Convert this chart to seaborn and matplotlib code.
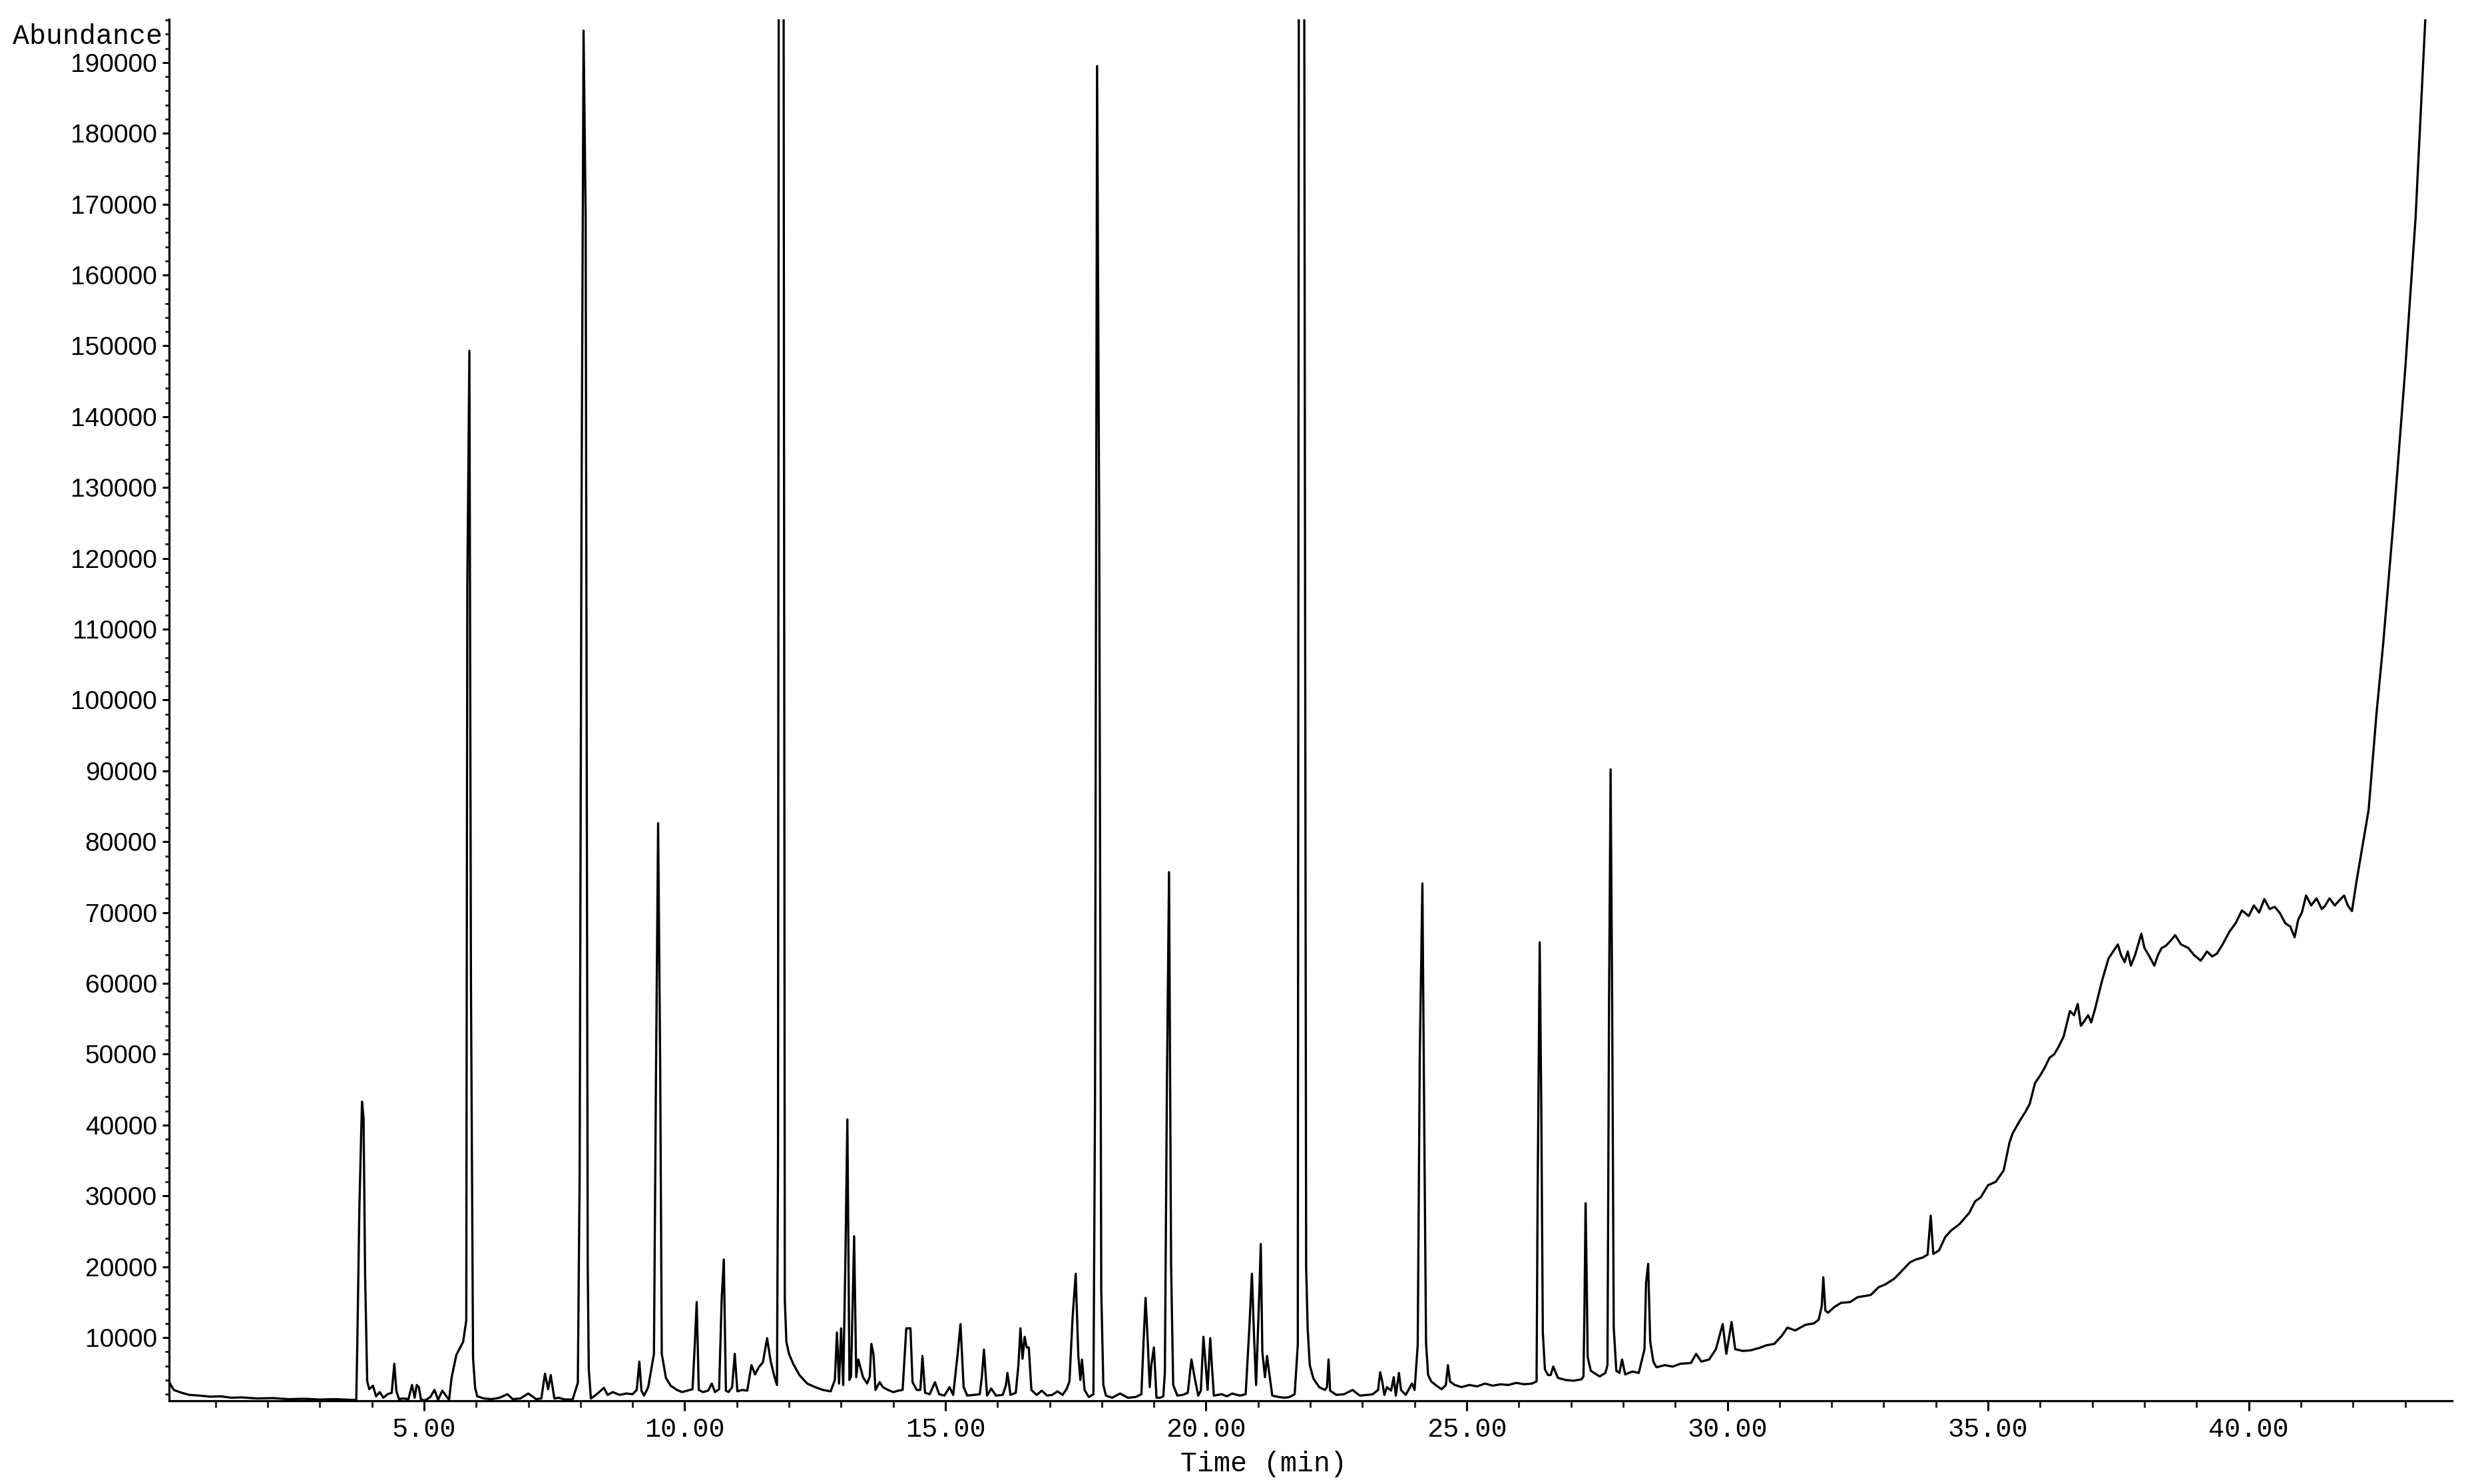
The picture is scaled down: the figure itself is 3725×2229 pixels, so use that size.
import numpy as np
import pandas as pd
import matplotlib
matplotlib.use('Agg')
import matplotlib.pyplot as plt
import seaborn as sns
from matplotlib import font_manager
from matplotlib.ticker import MultipleLocator, FormatStrFormatter

# chromatogram trace (time in min, abundance)
t_front = [0.12, 0.2, 0.35, 0.5, 0.7, 0.9, 1.1, 1.3, 1.5, 1.8, 2.1, 2.4, 2.7, 3.0, 3.3, 3.6,
           3.70, 3.72, 3.76, 3.81, 3.84, 3.87, 3.91, 3.95, 4.02, 4.08, 4.15, 4.22, 4.30, 4.38,
           4.43, 4.47, 4.52, 4.60, 4.70, 4.77, 4.82, 4.86, 4.90, 4.94, 5.00, 5.06, 5.12, 5.20,
           5.27, 5.35, 5.42, 5.48, 5.53, 5.62, 5.75, 5.81, 5.83, 5.87, 5.90, 5.94, 5.98, 6.02,
           6.15, 6.3, 6.45, 6.6, 6.7, 6.85]
a_front = [3600, 2600, 2200, 1900, 1800, 1650, 1700, 1500, 1550, 1400, 1450, 1300, 1350, 1250, 1300, 1200,
           1200, 9100, 28500, 43300, 41000, 18600, 3800, 2700, 3200, 1700, 2300, 1500, 2000, 2200,
           6300, 2400, 1300, 1400, 1300, 3300, 1500, 3300, 3000, 1300, 1100, 1300, 1600, 2600,
           1200, 2500, 1800, 1200, 4400, 7550, 9400, 12400, 116000, 149300, 60000, 7100, 2900, 1700,
           1400, 1300, 1500, 2000, 1300, 1400]

t_early = [7.0, 7.15, 7.25, 7.32, 7.38, 7.43, 7.50, 7.58, 7.7, 7.85, 7.95, 7.985, 8.02, 8.06, 8.10,
           8.14, 8.16, 8.20, 8.28, 8.36, 8.45, 8.52, 8.62, 8.75, 8.88, 9.0, 9.08, 9.13, 9.17, 9.22,
           9.30, 9.41, 9.45, 9.49, 9.53, 9.56, 9.64, 9.73, 9.85, 9.95, 10.05, 10.15, 10.19, 10.23,
           10.27, 10.35, 10.45, 10.52, 10.58, 10.66, 10.71, 10.75, 10.79, 10.84, 10.91, 10.96, 11.01,
           11.10, 11.20, 11.28, 11.35, 11.42, 11.50, 11.58, 11.65, 11.72, 11.77, 11.79, 11.81, 11.85,
           11.89, 11.92, 11.95, 12.0, 12.08, 12.2, 12.35, 12.5, 12.65, 12.8]
a_early = [2100, 1300, 1400, 4900, 2700, 4700, 1400, 1500, 1250, 1250, 3600, 33400, 125000, 194500, 168000,
           20000, 5500, 1400, 1800, 2300, 2900, 1900, 2300, 1900, 2100, 2000, 2600, 6600, 2500, 1800,
           3000, 7700, 48000, 82600, 48000, 7700, 4300, 3200, 2600, 2300, 2500, 2700, 8500, 15000,
           2600, 2300, 2500, 3500, 2300, 2700, 15600, 21000, 2500, 2300, 3000, 7700, 2400,
           2600, 2500, 6100, 4800, 5800, 6500, 9900, 6600, 4500, 3300, 35400, 280000, 350000,
           260000, 15400, 9400, 7700, 6300, 4700, 3500, 3000, 2600, 2400]

t_mid = [12.88, 12.92, 12.96, 13.0, 13.04, 13.08, 13.12, 13.16, 13.19, 13.25, 13.29, 13.33, 13.42, 13.50,
         13.55, 13.58, 13.62, 13.66, 13.74, 13.80, 13.9, 14.0, 14.1, 14.18, 14.25, 14.33, 14.37, 14.45,
         14.52, 14.56, 14.61, 14.70, 14.80, 14.88, 14.98, 15.08, 15.15, 15.24, 15.29, 15.35, 15.42,
         15.55, 15.66, 15.70, 15.74, 15.80, 15.88, 15.97, 16.1, 16.16, 16.19, 16.25, 16.35, 16.40,
         16.44, 16.48, 16.52, 16.56, 16.60, 16.65, 16.75, 16.85, 16.95, 17.05, 17.15, 17.25, 17.33,
         17.38, 17.44, 17.50, 17.55, 17.59, 17.62, 17.67, 17.75, 17.84, 17.87, 17.91, 17.95, 17.99,
         18.03, 18.08, 18.2, 18.35, 18.5, 18.65, 18.76, 18.80, 18.84, 18.88, 18.92, 18.95, 19.0,
         19.05, 19.12, 19.18]
a_mid = [4000, 10700, 3500, 11300, 3300, 20000, 40800, 4000, 4500, 24300, 4400, 6900, 4400, 3500,
         4500, 9100, 7700, 2600, 3700, 3000, 2600, 2300, 2500, 2600, 11300, 11300, 3700, 2600,
         2600, 7400, 2200, 2000, 3700, 2000, 1800, 3000, 1900, 8000, 11900, 3000, 1800,
         1900, 2000, 4500, 8300, 1800, 2800, 1800, 1900, 3200, 5000, 1900, 2200, 6000,
         11300, 7000, 10100, 8600, 8600, 2600, 1900, 2500, 1800, 1900, 2400, 1900, 2800,
         3800, 12800, 19000, 7400, 4000, 6900, 2600, 1600, 2000, 43000, 189500, 126000, 16600,
         3300, 1800, 1500, 2100, 1500, 1600, 2000, 9200, 15600, 9700, 3000, 6100, 8600,
         1500, 1500, 1700]

t_late = [19.21, 19.25, 19.29, 19.33, 19.37, 19.45, 19.55, 19.65, 19.72, 19.78, 19.85, 19.90, 19.95,
          19.99, 20.03, 20.08, 20.11, 20.15, 20.3, 20.4, 20.5, 20.65, 20.76, 20.83, 20.88, 20.92, 20.96,
          21.02, 21.05, 21.08, 21.13, 21.17, 21.21, 21.27, 21.4, 21.5, 21.6, 21.70, 21.74, 21.76, 21.79,
          21.85, 21.90, 21.92, 21.95, 21.99, 22.06, 22.17, 22.28, 22.32, 22.35, 22.38, 22.5, 22.65,
          22.81, 22.95, 23.1, 23.2, 23.30, 23.34, 23.38, 23.42, 23.47, 23.55, 23.60, 23.64, 23.70,
          23.74, 23.83, 23.95, 24.0, 24.06, 24.10, 24.15, 24.19, 24.22, 24.26, 24.32, 24.42, 24.52,
          24.60, 24.64, 24.68, 24.77, 24.9, 25.05, 25.2, 25.35, 25.5, 25.65, 25.8, 25.95, 26.1, 26.25,
          26.34, 26.36, 26.40, 26.43, 26.46, 26.50, 26.56, 26.61, 26.66]
a_late = [5000, 46000, 75700, 20000, 3300, 1800, 1900, 2200, 6900, 4400, 1800, 2500, 10100,
          6400, 2600, 9900, 6300, 1800, 2000, 1700, 2100, 1800, 2000, 11300, 19000, 10300, 3300,
          16000, 23200, 8000, 4400, 7400, 5100, 1800, 1600, 1500, 1600, 2000, 6600, 9000, 300000,
          380000, 114000, 20000, 11100, 6100, 4200, 3000, 2600, 3000, 6900, 2500, 1900, 2000,
          2600, 1800, 1900, 2000, 2600, 5100, 3800, 1900, 3000, 2500, 4400, 1800, 5000,
          2600, 1900, 3500, 2600, 8900, 50000, 74100, 36000, 9200, 4700, 3800, 3200, 2700,
          3300, 6100, 3800, 3300, 3000, 3300, 3100, 3500, 3200, 3400, 3300, 3600, 3400, 3500,
          3800, 29800, 65800, 43000, 10700, 5500, 4700, 4700, 5900]

t_rise = [26.75, 26.9, 27.05, 27.2, 27.24, 27.26, 27.28, 27.30, 27.32, 27.38, 27.55, 27.66, 27.70, 27.73,
          27.76, 27.79, 27.82, 27.87, 27.93, 27.98, 28.04, 28.18, 28.30, 28.41, 28.44, 28.48, 28.52,
          28.58, 28.64, 28.8, 28.95, 29.1, 29.3, 29.4, 29.5, 29.65, 29.78, 29.91, 29.98, 30.08, 30.15,
          30.3, 30.45, 30.6, 30.75, 30.9, 31.05, 31.15, 31.3, 31.5, 31.66, 31.75, 31.81, 31.84, 31.88,
          31.93, 32.05, 32.18, 32.35, 32.5, 32.75, 32.9, 33.03, 33.2, 33.32, 33.5, 33.61, 33.75, 33.84,
          33.9, 33.95, 34.06, 34.18, 34.29, 34.45, 34.64, 34.75, 34.86, 35.0, 35.15, 35.3, 35.41]
a_rise = [4300, 4000, 3900, 4100, 4500, 14900, 28950, 19300, 7250, 5300, 4500, 5000, 6100, 57000,
          90200, 57300, 11400, 5300, 5000, 6900, 4800, 5200, 5000, 8350, 17700, 20400, 9400,
          6600, 5800, 6100, 5900, 6300, 6400, 7700, 6600, 6900, 8350, 11900, 7700, 12200, 8350,
          8100, 8200, 8500, 8900, 9100, 10300, 11400, 11000, 11800, 12000, 12500, 14400, 18500, 13800,
          13500, 14300, 14900, 15000, 15700, 16000, 17100, 17500, 18300, 19200, 20600, 21000, 21300, 21700,
          27200, 21800, 22300, 24200, 25100, 26000, 27600, 29200, 29800, 31500, 32000, 33600, 37500]

t_bleed = [35.47, 35.6, 35.72, 35.8, 35.9, 36.0, 36.08, 36.18, 36.27, 36.35, 36.45, 36.57, 36.65, 36.72,
           36.78, 36.84, 36.92, 36.98, 37.06, 37.18, 37.31, 37.40, 37.49, 37.55, 37.62, 37.68, 37.74,
           37.82, 37.94, 38.0, 38.08, 38.19, 38.26, 38.33, 38.41, 38.5, 38.59, 38.7, 38.84, 38.95, 39.08,
           39.2, 39.3, 39.39, 39.5, 39.63, 39.75, 39.87, 40.0, 40.1, 40.2, 40.3, 40.4, 40.5, 40.6, 40.7,
           40.8, 40.88, 40.95, 41.02, 41.1, 41.2, 41.3, 41.4, 41.46, 41.55, 41.65, 41.75, 41.83, 41.9,
           41.98, 42.07, 42.15, 42.3, 42.45, 42.58, 42.78, 43.0, 43.2, 43.40]
a_bleed = [38800, 40500, 41900, 43000, 45900, 47000, 48000, 49500, 50000, 51000, 52500, 56100, 55500, 57100,
           54000, 54600, 55500, 54500, 56600, 60200, 63500, 64500, 65500, 64000, 63000, 64500, 62500,
           64000, 67000, 65000, 64000, 62500, 64000, 65000, 65300, 66000, 66800, 65500, 65000, 64000, 63200,
           64500, 63800, 64200, 65500, 67300, 68500, 70300, 69500, 71000, 70000, 71900, 70500, 70800, 69900, 68500,
           68000, 66500, 69000, 70000, 72400, 71000, 72000, 70500, 70900, 72000, 71000, 71800, 72400, 71000,
           70200, 74500, 78000, 84500, 98000, 108000, 125500, 146500, 168000, 198000]

time_min = t_front + t_early + t_mid + t_late + t_rise + t_bleed
abundance = a_front + a_early + a_mid + a_late + a_rise + a_bleed
df = pd.DataFrame({'time': time_min, 'abundance': abundance})

sns.set_style('ticks')
avail = {f.name for f in font_manager.fontManager.ttflist}
sans = 'Liberation Sans Narrow' if 'Liberation Sans Narrow' in avail else 'Liberation Sans'
mono = 'Liberation Mono'

fig = plt.figure(figsize=(37.25, 22.29), dpi=100)
ax = fig.add_axes([254 / 3725, 125 / 2229, 3429 / 3725, 2075 / 2229])

sns.lineplot(data=df, x='time', y='abundance', estimator=None, sort=False,
             color='black', linewidth=2.4, ax=ax)

ax.set_xlim(0.11, 43.9)
ax.set_ylim(1070, 196100)
sns.despine(ax=ax)
for side in ['left', 'bottom']:
    ax.spines[side].set_linewidth(2.3)
    ax.spines[side].set_color('black')

ax.xaxis.set_major_locator(MultipleLocator(5))
ax.xaxis.set_minor_locator(MultipleLocator(1))
ax.xaxis.set_major_formatter(FormatStrFormatter('%.2f'))
ax.yaxis.set_major_locator(MultipleLocator(10000))
ax.yaxis.set_minor_locator(MultipleLocator(2000))
ax.yaxis.set_major_formatter(FormatStrFormatter('%d'))

ax.tick_params(axis='x', which='major', length=11, width=2.2, pad=6, colors='black')
ax.tick_params(axis='x', which='minor', length=7, width=2.2)
ax.tick_params(axis='y', which='major', length=7, width=2.2, pad=6, colors='black')
ax.tick_params(axis='y', which='minor', length=4.5, width=2.2)
for lab in ax.get_xticklabels():
    lab.set_fontfamily(mono)
    lab.set_fontsize(29)
for lab in ax.get_yticklabels():
    lab.set_fontfamily(sans)
    lab.set_fontsize(28)

ax.set_ylabel('')
ax.set_xlabel('Time (min)', fontfamily=mono, fontsize=30, color='black')
ax.xaxis.set_label_coords(0.4794, -0.036)
ax.text(-0.003, 193700, 'Abundance', transform=ax.get_yaxis_transform(),
        ha='right', va='center', fontfamily=mono, fontsize=30, color='black')

fig.savefig('out.png', dpi=100, facecolor='white')
